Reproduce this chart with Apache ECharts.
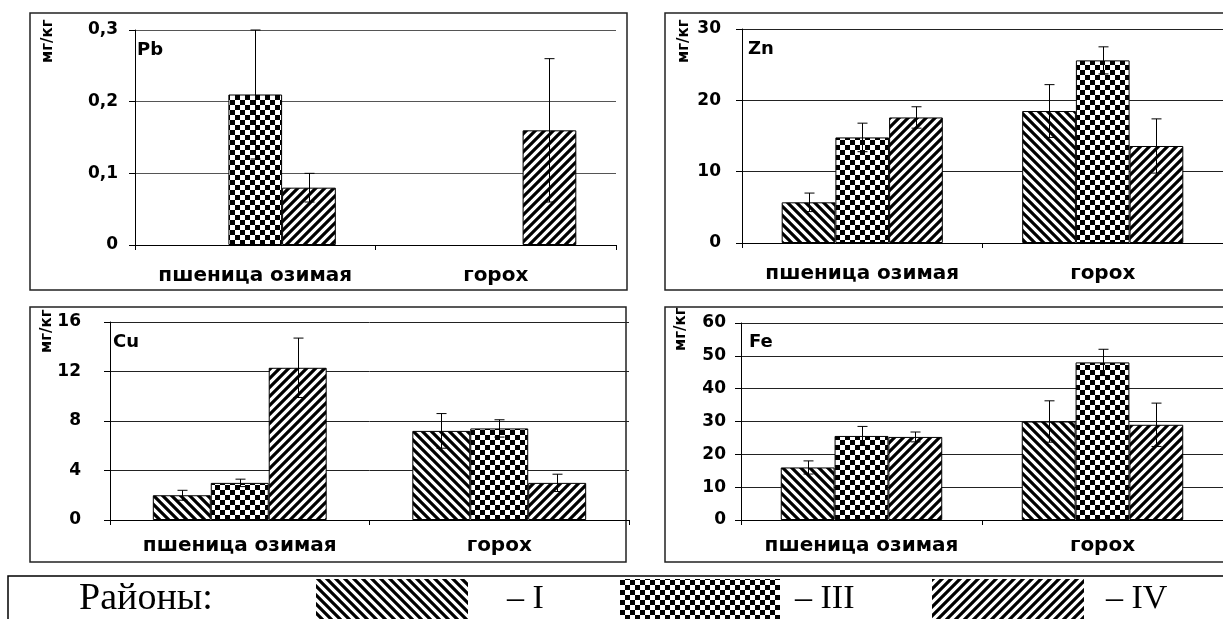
<!DOCTYPE html>
<html><head><meta charset="utf-8">
<script src="https://cdn.jsdelivr.net/npm/echarts@6/dist/echarts.min.js"></script>
<style>html,body{margin:0;padding:0;background:#fff;overflow:hidden}#c{width:1223px;height:619px}</style>
</head><body><div id="c"></div>
<script>
// ---------- data ----------
const categories = ['пшеница озимая', 'горох'];
const districts = ['I', 'III', 'IV'];

const pbI = [null, null];
const pbIII = [0.21, null];
const pbIV = [0.08, 0.16];
const pbErrI = [null, null];
const pbErrIII = [0.09, null];
const pbErrIV = [0.02, 0.10];
const pbTicks = ['0', '0,1', '0,2', '0,3'];

const znI = [5.7, 18.5];
const znIII = [14.8, 25.6];
const znIV = [17.6, 13.6];
const znErrI = [1.3, 3.7];
const znErrIII = [2.0, 1.9];
const znErrIV = [1.5, 3.8];
const znTicks = ['0', '10', '20', '30'];

const cuI = [2.0, 7.2];
const cuIII = [3.0, 7.4];
const cuIV = [12.3, 3.0];
const cuErrI = [0.4, 1.4];
const cuErrIII = [0.3, 0.7];
const cuErrIV = [2.4, 0.7];
const cuTicks = ['0', '4', '8', '12', '16'];

const feI = [16, 30];
const feIII = [25.6, 48];
const feIV = [25.3, 29];
const feErrI = [2.0, 6.3];
const feErrIII = [2.9, 4.0];
const feErrIV = [1.5, 6.6];
const feTicks = ['0', '10', '20', '30', '40', '50', '60'];

const unitLabel = 'мг/кг';
const legendTitle = 'Районы:';

// ---------- patterns ----------
function stripes(back) {
  const s = 9, c = document.createElement('canvas');
  c.width = s; c.height = s;
  const g = c.getContext('2d');
  g.fillStyle = '#fff'; g.fillRect(0, 0, s, s);
  g.strokeStyle = '#000'; g.lineWidth = 3.2; g.beginPath();
  for (let k = -2; k <= 3; k++) {
    if (back) { g.moveTo(k * s - s, -s); g.lineTo(k * s + 2 * s, 2 * s); }
    else { g.moveTo(k * s + s, -s); g.lineTo(k * s - 2 * s, 2 * s); }
  }
  g.stroke();
  return c;
}
function checker() {
  const s = 10, c = document.createElement('canvas');
  c.width = s; c.height = s;
  const g = c.getContext('2d');
  g.fillStyle = '#fff'; g.fillRect(0, 0, s, s);
  g.fillStyle = '#000'; g.fillRect(0, 0, 5, 5); g.fillRect(5, 5, 5, 5);
  return c;
}
const patterns = [stripes(true), checker(), stripes(false)].map(im => ({ image: im, repeat: 'repeat' }));

// ---------- layout ----------
const GAP = 0.33;
const FONT = 'DejaVu Sans';
const panels = [
  { el: 'Pb', vals: [pbI, pbIII, pbIV], errs: [pbErrI, pbErrIII, pbErrIV], ticks: pbTicks, interval: 0.1,
    grid: { left: 135, top: 30, width: 481, height: 215 }, yMargin: 17, xMargin: 21, split: '#555',
    elPos: [137, 41], unitPos: [48, 63], box: [30, 13, 597, 277] },
  { el: 'Zn', vals: [znI, znIII, znIV], errs: [znErrI, znErrIII, znErrIV], ticks: znTicks, interval: 10,
    grid: { left: 742, top: 29, width: 486, height: 214 }, yMargin: 21, xMargin: 21, split: '#222',
    elPos: [748, 40], unitPos: [684, 63], box: [665, 13, 600, 277] },
  { el: 'Cu', vals: [cuI, cuIII, cuIV], errs: [cuErrI, cuErrIII, cuErrIV], ticks: cuTicks, interval: 4,
    grid: { left: 110, top: 322, width: 519, height: 198 }, yMargin: 29, xMargin: 16, split: '#222',
    elPos: [113, 333], unitPos: [47, 353], box: [30, 307, 596, 255] },
  { el: 'Fe', vals: [feI, feIII, feIV], errs: [feErrI, feErrIII, feErrIV], ticks: feTicks, interval: 10,
    grid: { left: 741, top: 323, width: 487, height: 197 }, yMargin: 15, xMargin: 16, split: '#222',
    elPos: [749, 333], unitPos: [681, 351], box: [665, 307, 600, 255] }
];

const grid = [], xAxis = [], yAxis = [], series = [], graphic = [];
panels.forEach((p, pi) => {
  grid.push(p.grid);
  xAxis.push({
    type: 'category', gridIndex: pi, data: categories,
    axisLine: { lineStyle: { color: '#000', width: 1 } },
    axisTick: { show: true, alignWithLabel: false, interval: 0, length: 5, lineStyle: { color: '#000' } },
    axisLabel: { interval: 0, hideOverlap: false, color: '#000', fontFamily: FONT, fontWeight: 'bold', fontSize: 20, margin: p.xMargin }
  });
  const n = p.ticks.length - 1;
  yAxis.push({
    type: 'value', gridIndex: pi, min: 0, max: n * p.interval, interval: p.interval,
    axisLine: { show: true, lineStyle: { color: '#000', width: 1 } },
    axisTick: { show: true, length: 6, lineStyle: { color: '#000' } },
    splitLine: { show: true, lineStyle: { color: p.split, width: 1 } },
    axisLabel: { color: '#000', fontFamily: FONT, fontWeight: 'bold', fontSize: 17, margin: p.yMargin,
      formatter: v => p.ticks[Math.round(v / p.interval)] }
  });
  p.vals.forEach((vals, k) => {
    series.push({
      type: 'bar', name: districts[k], xAxisIndex: pi, yAxisIndex: pi, data: vals,
      barGap: '0%', barCategoryGap: (GAP * 100) + '%', silent: true,
      itemStyle: { color: patterns[k], borderColor: '#000', borderWidth: 1 }
    });
  });
  p.vals.forEach((vals, k) => {
    const errs = p.errs[k];
    const data = [];
    vals.forEach((v, i) => { if (v != null && errs[i] != null) data.push([i, v - errs[i], v + errs[i]]); });
    series.push({
      type: 'custom', xAxisIndex: pi, yAxisIndex: pi, data, z: 10, silent: true,
      encode: { x: 0, y: [1, 2] },
      renderItem(params, api) {
        const i = api.value(0);
        const lo = api.coord([i, api.value(1)]);
        const hi = api.coord([i, api.value(2)]);
        const band = api.size([1, 0])[0];
        const bw = band * (1 - GAP) / 3;
        const x = Math.round(lo[0] + (k - 1) * bw) + 0.5;
        const h = 5, st = { stroke: '#000', lineWidth: 1 };
        return { type: 'group', children: [
          { type: 'line', shape: { x1: x, y1: lo[1], x2: x, y2: hi[1] }, style: st },
          { type: 'line', shape: { x1: x - h, y1: hi[1], x2: x + h, y2: hi[1] }, style: st },
          { type: 'line', shape: { x1: x - h, y1: lo[1], x2: x + h, y2: lo[1] }, style: st }
        ] };
      }
    });
  });
  graphic.push({ type: 'rect', shape: { x: p.box[0], y: p.box[1], width: p.box[2], height: p.box[3] },
    style: { fill: 'none', stroke: '#222', lineWidth: 1.5 }, silent: true, z: 0 });
  graphic.push({ type: 'text', x: p.elPos[0], y: p.elPos[1], silent: true, z: 20,
    style: { text: p.el, fill: '#000', font: 'bold 18px "' + FONT + '"', textAlign: 'left', textVerticalAlign: 'top' } });
  graphic.push({ type: 'text', x: p.unitPos[0], y: p.unitPos[1], rotation: Math.PI / 2, silent: true, z: 20,
    style: { text: unitLabel, fill: '#000', font: 'bold 15px "' + FONT + '"', textAlign: 'left', textVerticalAlign: 'middle' } });
});

// legend box
const SERIF = 'Liberation Serif';
graphic.push({ type: 'rect', shape: { x: 8, y: 576, width: 1240, height: 60 },
  style: { fill: 'none', stroke: '#000', lineWidth: 1.5 }, silent: true });
graphic.push({ type: 'text', x: 146, y: 599, silent: true,
  style: { text: legendTitle, fill: '#000', font: '38px "' + SERIF + '"', textAlign: 'center', textVerticalAlign: 'middle' } });
const legendPatch = [[316, 152], [620, 160], [932, 152]];
const legendText = [507, 795, 1106];
districts.forEach((d, k) => {
  graphic.push({ type: 'rect', shape: { x: legendPatch[k][0], y: 579, width: legendPatch[k][1], height: 42 },
    style: { fill: patterns[k], stroke: 'none' }, silent: true });
  graphic.push({ type: 'text', x: legendText[k], y: 599, silent: true,
    style: { text: '– ' + d, fill: '#000', font: '34px "' + SERIF + '"', textAlign: 'left', textVerticalAlign: 'middle' } });
});

const chart = echarts.init(document.getElementById('c'), null, { renderer: 'canvas' });
chart.setOption({ animation: false, backgroundColor: '#fff', grid, xAxis, yAxis, series, graphic });
</script></body></html>
